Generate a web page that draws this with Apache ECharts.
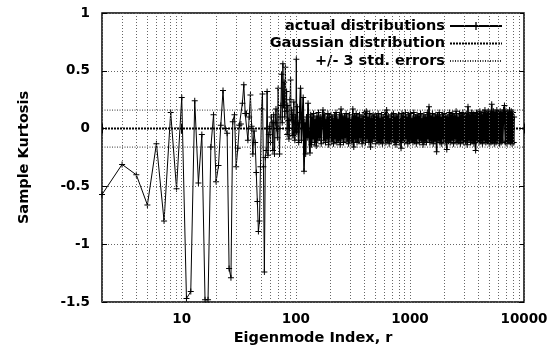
<!DOCTYPE html>
<html><head><meta charset="utf-8">
<script src="https://cdn.jsdelivr.net/npm/echarts@6/dist/echarts.min.js"></script>
<style>html,body{margin:0;padding:0;background:#fff}#c{width:557px;height:347px}</style>
</head><body><div id="c"></div>
<script>
// ---- data ----
const xRange = [2, 10000];
const yRange = [-1.5, 1];
const yStep = 0.5;
const xTickLabels = ['10', '100', '1000', '10000'];
const seriesNames = ['actual distributions', 'Gaussian distribution', '+/- 3 std. errors'];
const gaussianLevel = 0;
const stdErrBound = 0.16;

// sample kurtosis for r = 2, 3, 4, ... (consecutive eigenmodes)
const firstIndex = 2;
const earlyKurtosis = [
  -0.57, -0.31, -0.40, -0.66, -0.13, -0.80, 0.14, -0.52, 0.27, -1.47,
  -1.41, 0.24, -0.47, -0.05, -1.48, -1.48, -0.16, 0.12, -0.46, -0.32,
  0.03, 0.33, 0.00, -0.04, -1.21, -1.29, 0.06, 0.12, -0.33, -0.17,
  0.03, 0.04, 0.22, 0.38, 0.13, 0.13, -0.10, 0.10, 0.29, 0.02,
  -0.22, -0.02, -0.12, -0.38, -0.63, -0.89, -0.80, -0.33, 0.17, 0.30,
  -0.33, -1.24, -0.25, -0.19, 0.32, -0.23, -0.05, 0.02, -0.12, 0.10,
  0.05, -0.19, 0.12, -0.22, 0.05, 0.17, 0.00, -0.08, 0.35, 0.00,
  -0.22, 0.10, 0.20, 0.47, 0.05, 0.56, 0.20, 0.40, 0.10, 0.53,
  0.15, 0.32, -0.05, 0.20, 0.07, -0.09, 0.00, 0.25, 0.42, 0.08,
  0.16, -0.06, 0.12, -0.06, 0.23, 0.05, -0.10, 0.10, -0.03, 0.60,
  -0.03, 0.19, 0.05
];

// dense part (r >= 104), sampled eigenmodes [r, kurtosis]
const densePoints = [
  [104,0.05],
  [106,-0.12],[108,0.14],[110,0.35],[112,-0.10],[114,0.08],[116,0.27],[118,-0.37],[120,0.05],[122,-0.22],[124,0.10],
  [126,-0.08],[128,0.22],[130,-0.05],[133,-0.21],[135,0.12],[137,-0.14],[139,0.10],[141,-0.09],[143,0.13],[146,-0.12],
  [148,0.08],[151,-0.15],[153,0.11],[156,-0.10],[158,0.14],[161,-0.08],[164,0.10],[167,-0.13],[170,0.09],[173,0.16],
  [176,-0.10],[179,0.12],[182,-0.12],[185,0.08],[188,-0.09],[191,0.13],[194,-0.14],[197,0.10],[200,-0.08],[203,0.12],
  [207,-0.11],[210,0.09],[214,-0.13],[218,0.11],[221,-0.09],[225,0.14],[229,-0.12],[233,0.08],[237,-0.10],[241,0.12],
  [245,-0.14],[249,0.17],[254,-0.09],[258,0.11],[262,-0.12],[267,0.10],[271,-0.08],[276,0.13],[281,-0.11],[286,0.09],
  [290,-0.13],[295,0.12],[300,-0.10],[306,0.08],[311,-0.12],[316,0.17],[322,-0.16],[327,0.11],[333,-0.09],[338,0.13],
  [344,-0.12],[350,0.10],[356,-0.11],[362,0.12],[368,-0.08],[375,0.09],[381,-0.13],[388,0.11],[394,-0.10],[401,0.14],
  [408,-0.12],[415,0.15],[422,-0.09],[429,0.10],[437,-0.12],[444,0.13],[452,-0.16],[460,0.09],[468,-0.11],[476,0.12],
  [484,-0.09],[492,0.11],[501,-0.13],[509,0.10],[518,-0.10],[527,0.13],[536,-0.12],[545,0.09],[555,-0.11],[564,0.12],
  [574,-0.13],[584,0.10],[594,-0.09],[604,0.14],[615,-0.12],[625,0.16],[636,-0.10],[647,0.11],[658,-0.13],[670,0.09],
  [681,-0.11],[693,0.12],[705,-0.09],[717,0.13],[729,-0.12],[742,0.10],[755,-0.14],[768,0.11],[781,-0.10],[794,0.12],
  [808,-0.12],[822,0.09],[836,-0.17],[851,0.13],[865,-0.10],[880,0.11],[895,-0.12],[911,0.14],[927,-0.09],[943,0.10],
  [959,-0.13],[975,0.12],[992,-0.11],[1009,0.13],[1027,-0.10],[1044,0.09],[1062,-0.12],[1081,0.14],[1099,-0.11],[1118,0.10],
  [1138,-0.13],[1157,0.12],[1177,-0.09],[1197,0.11],[1218,-0.12],[1239,0.13],[1261,-0.10],[1282,0.09],[1304,-0.14],[1327,0.12],
  [1350,-0.11],[1373,0.10],[1397,-0.12],[1421,0.14],[1445,-0.09],[1470,0.19],[1496,-0.12],[1521,0.11],[1548,-0.10],[1574,0.13],
  [1601,-0.13],[1629,0.10],[1657,-0.11],[1686,0.12],[1715,-0.20],[1744,0.11],[1774,-0.10],[1805,0.14],[1836,-0.12],[1868,0.10],
  [1900,-0.13],[1933,0.12],[1966,-0.09],[2000,0.13],[2035,-0.12],[2070,0.11],[2105,-0.18],[2142,0.10],[2179,-0.11],[2216,0.14],
  [2254,-0.12],[2293,0.12],[2333,-0.10],[2373,0.13],[2414,-0.13],[2456,0.11],[2498,-0.09],[2541,0.15],[2585,-0.12],[2630,0.10],
  [2675,-0.11],[2721,0.13],[2768,-0.13],[2816,0.12],[2865,-0.10],[2914,0.14],[2964,-0.12],[3015,0.11],[3067,-0.11],[3120,0.13],
  [3174,-0.14],[3229,0.19],[3285,-0.10],[3341,0.12],[3399,-0.12],[3458,0.14],[3517,-0.11],[3578,0.13],[3640,-0.13],[3702,0.12],
  [3766,-0.19],[3831,0.14],[3897,-0.10],[3965,0.13],[4033,-0.12],[4103,0.15],[4173,-0.11],[4245,0.12],[4319,-0.13],[4393,0.14],
  [4469,-0.10],[4546,0.16],[4625,-0.12],[4705,0.13],[4786,-0.11],[4869,0.15],[4953,-0.13],[5038,0.14],[5125,-0.12],[5214,0.21],
  [5304,-0.11],[5395,0.15],[5488,-0.13],[5583,0.14],[5680,-0.12],[5778,0.16],[5877,-0.10],[5979,0.14],[6082,-0.13],[6187,0.15],
  [6294,-0.12],[6403,0.14],[6513,-0.11],[6626,0.16],[6740,0.20],[6857,-0.12],[6975,0.15],[7095,-0.13],[7218,0.14],[7343,-0.11],
  [7469,0.16],[7598,-0.12],[7730,0.15],[7863,-0.13],[7999,0.14],[8137,-0.12],[8192,0.10]
];

// ---- build ----
const early = earlyKurtosis.map((v, i) => [firstIndex + i, v]);
const minorGrid = [];
[1, 10, 100, 1000].forEach(d => { for (let k = 2; k <= 9; k++) { const v = k * d; if (v > xRange[0] && v < xRange[1]) minorGrid.push({ xAxis: v }); } });

const FONT = 'DejaVu Sans';
const gridLine = { show: true, lineStyle: { color: '#666', width: 1, type: [1, 2] } };
const tickIn = { show: true, inside: true, length: 5, lineStyle: { color: '#000', width: 1 } };
const plusSymbol = 'path://M0,2.5H6V3.5H0ZM2.5,0H3.5V6H2.5Z';
const hiddenMark = { color: 'rgba(0,0,0,0)', borderColor: 'rgba(0,0,0,0)', borderWidth: 0 };

const chart = echarts.init(document.getElementById('c'), null, { renderer: 'canvas' });
chart.setOption({
  animation: false,
  backgroundColor: '#fff',
  grid: { left: 102, right: 33, top: 13, bottom: 45, show: true, borderColor: '#000', borderWidth: 1.5, backgroundColor: 'transparent', containLabel: false, outerBoundsMode: 'none' },
  legend: {
    data: [
      { name: seriesNames[0] },
      { name: seriesNames[1], itemStyle: hiddenMark },
      { name: seriesNames[2], itemStyle: hiddenMark }
    ],
    orient: 'vertical', align: 'right', right: 54, top: 18.5, padding: 0,
    itemWidth: 52, itemHeight: 10, itemGap: 2.5, selectedMode: false,
    textStyle: { fontFamily: FONT, fontWeight: 'bold', fontSize: 14.5, color: '#000', lineHeight: 15 }
  },
  xAxis: [
    { type: 'log', logBase: 10, min: xRange[0], max: xRange[1], position: 'bottom',
      axisLine: { show: false }, axisTick: tickIn, splitLine: gridLine,
      axisLabel: { margin: 10, fontFamily: FONT, fontWeight: 'bold', fontSize: 13.5, color: '#000',
        formatter: v => { const s = String(Math.round(v)); return xTickLabels.includes(s) ? s : ''; } },
      name: 'Eigenmode Index, r', nameLocation: 'middle', nameGap: 25,
      nameTextStyle: { fontFamily: FONT, fontWeight: 'bold', fontSize: 14.5, color: '#000' } },
    { type: 'log', logBase: 10, min: xRange[0], max: xRange[1], position: 'top',
      axisLine: { show: false }, axisTick: tickIn, splitLine: { show: false }, axisLabel: { show: false } }
  ],
  yAxis: [
    { type: 'value', min: yRange[0], max: yRange[1], interval: yStep, position: 'left',
      axisLine: { show: false }, axisTick: tickIn, splitLine: gridLine,
      axisLabel: { margin: 12, fontFamily: FONT, fontWeight: 'bold', fontSize: 13.5, color: '#000' },
      name: 'Sample Kurtosis', nameLocation: 'middle', nameGap: 70,
      nameTextStyle: { fontFamily: FONT, fontWeight: 'bold', fontSize: 14.5, color: '#000' } },
    { type: 'value', min: yRange[0], max: yRange[1], interval: yStep, position: 'right',
      axisLine: { show: false }, axisTick: tickIn, splitLine: { show: false }, axisLabel: { show: false } }
  ],
  series: [
    { name: 'minor-grid', type: 'line', data: [], silent: true, symbol: 'none',
      markLine: { silent: true, symbol: ['none', 'none'], label: { show: false }, animation: false,
        lineStyle: { color: '#666', width: 1, type: [1, 2] }, emphasis: { disabled: true }, data: minorGrid } },
    { name: seriesNames[2], type: 'line', symbol: 'none', silent: true,
      lineStyle: { color: '#333', width: 1, type: [1, 1.5] }, itemStyle: { color: '#333' },
      data: [[xRange[0], stdErrBound], [xRange[1], stdErrBound]] },
    { name: seriesNames[2], type: 'line', symbol: 'none', silent: true,
      lineStyle: { color: '#333', width: 1, type: [1, 1.5] }, itemStyle: { color: '#333' },
      data: [[xRange[0], -stdErrBound], [xRange[1], -stdErrBound]] },
    { name: seriesNames[1], type: 'line', symbol: 'none', silent: true,
      lineStyle: { color: '#000', width: 2, type: [2, 1] }, itemStyle: { color: '#000' },
      data: [[xRange[0], gaussianLevel], [xRange[1], gaussianLevel]] },
    { name: seriesNames[0], type: 'line', silent: true, symbol: plusSymbol, symbolSize: 6,
      showSymbol: true, showAllSymbol: true,
      lineStyle: { color: '#000', width: 1 }, itemStyle: { color: '#000' },
      data: early },
    { name: seriesNames[0], type: 'line', silent: true, symbol: plusSymbol, symbolSize: 6,
      showSymbol: true, showAllSymbol: true,
      lineStyle: { color: '#000', width: 1.6 }, itemStyle: { color: '#000' },
      data: densePoints }
  ]
});
</script></body></html>
